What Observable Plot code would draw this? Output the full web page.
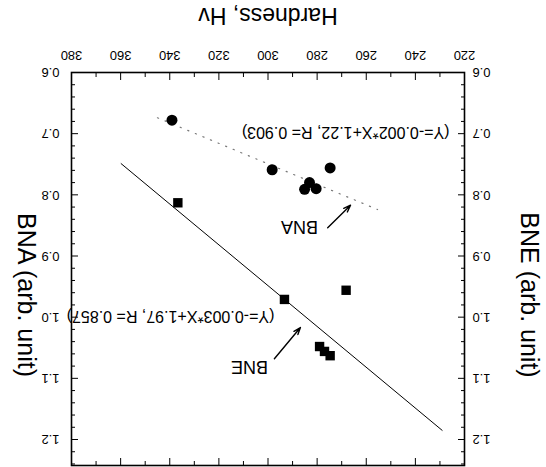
<!DOCTYPE html>
<html><head><meta charset="utf-8">
<script src="https://cdn.jsdelivr.net/npm/d3@7"></script>
<script src="https://cdn.jsdelivr.net/npm/@observablehq/plot@0.6"></script>
<style>
html,body{margin:0;padding:0;background:#fff;}
#wrap{width:546px;height:467px;transform:rotate(180deg);transform-origin:50% 50%;overflow:hidden;}
</style></head>
<body><div id="wrap"></div>
<script>
// Hardness (Hv) vs BNA / BNE values
const bnaHardness = [339.1, 298.3, 274.7, 283.1, 285.1, 280.4];
const bnaValue    = [0.678, 0.759, 0.756, 0.780, 0.791, 0.790];
const bneHardness = [336.7, 293.3, 268.2, 279.0, 277.0, 274.7];
const bneValue    = [0.813, 0.971, 0.956, 1.048, 1.056, 1.063];
// fitted lines (end points)
const bneFitX = [359.8, 229.1];
const bneFitY = [0.749, 1.185];
const bnaFitX = [345.0, 255.4];
const bnaFitY = [0.674, 0.824];
// ticks
const xMajorTicks = [220, 240, 260, 280, 300, 320, 340, 360, 380];
const xMinorTicks = [230, 250, 270, 290, 310, 330, 350, 370];
const yMajorTicks = [0.6, 0.7, 0.8, 0.9, 1.0, 1.1, 1.2];
const yMinorTicks = [0.62, 0.64, 0.66, 0.68, 0.72, 0.74, 0.76, 0.78, 0.82, 0.84, 0.86, 0.88,
                     0.92, 0.94, 0.96, 0.98, 1.02, 1.04, 1.06, 1.08, 1.12, 1.14, 1.16, 1.18, 1.22, 1.24];
// texts
const xTitle = "Hardness, Hv";
const leftTitle = "BNE (arb. unit)";
const rightTitle = "BNA (arb. unit)";
const fitLabels = [
  {t: "(Y=-0.002*X+1.22, R= 0.903)", x: 226.1, y: 0.698},
  {t: "(Y=-0.003*X+1.97, R= 0.857)", x: 297.4, y: 0.999}
];
const seriesLabels = [
  {t: "BNA", x: 287.2, y: 0.852},
  {t: "BNE", x: 307.5, y: 1.081}
];
const arrows = [
  {x1: 275.7, y1: 0.854, x2: 266.4, y2: 0.817},
  {x1: 297.4, y1: 1.068, x2: 286.8, y2: 1.017}
];

const bna = bnaHardness.map((h, i) => ({h, v: bnaValue[i]}));
const bne = bneHardness.map((h, i) => ({h, v: bneValue[i]}));
const bneFit = bneFitX.map((h, i) => ({h, v: bneFitY[i]}));
const bnaFit = bnaFitX.map((h, i) => ({h, v: bnaFitY[i]}));
const fmt1 = d3.format(".1f");
const blank = () => "";

const chart = Plot.plot({
  width: 546, height: 467,
  marginLeft: 81, marginRight: 72, marginTop: 1, marginBottom: 73,
  x: {domain: [220, 380]},
  y: {domain: [0.6, 1.2425]},
  style: {fontFamily: "'Liberation Sans', Arial, Helvetica, sans-serif", fontSize: "13px", color: "black", background: "white"},
  marks: [
    // tick labels
    Plot.axisX({ticks: xMajorTicks, anchor: "bottom", tickSize: 0, tickPadding: 12, tickFormat: d3.format("d"), label: null}),
    Plot.axisY({ticks: yMajorTicks, anchor: "left", tickSize: 0, tickPadding: 8, tickFormat: fmt1, label: null}),
    Plot.axisY({ticks: yMajorTicks, anchor: "right", tickSize: 0, tickPadding: 12, tickFormat: fmt1, label: null}),
    // inward ticks
    Plot.axisX({ticks: xMajorTicks, anchor: "bottom", tickSize: 7, insetBottom: 7, tickFormat: blank, label: null}),
    Plot.axisX({ticks: xMinorTicks, anchor: "bottom", tickSize: 4, insetBottom: 4, tickFormat: blank, label: null}),
    Plot.axisX({ticks: xMajorTicks, anchor: "top", tickSize: 7, insetTop: 7, tickFormat: blank, label: null}),
    Plot.axisX({ticks: xMinorTicks, anchor: "top", tickSize: 4, insetTop: 4, tickFormat: blank, label: null}),
    Plot.axisY({ticks: yMajorTicks, anchor: "left", tickSize: 7, insetLeft: 7, tickFormat: blank, label: null}),
    Plot.axisY({ticks: yMinorTicks, anchor: "left", tickSize: 4, insetLeft: 4, tickFormat: blank, label: null}),
    Plot.axisY({ticks: yMajorTicks, anchor: "right", tickSize: 7, insetRight: 7, tickFormat: blank, label: null}),
    Plot.axisY({ticks: yMinorTicks, anchor: "right", tickSize: 4, insetRight: 4, tickFormat: blank, label: null}),
    Plot.frame({strokeWidth: 1.6}),
    // titles
    Plot.text([xTitle], {frameAnchor: "bottom", dy: 57, fontSize: 23, textAnchor: "middle", lineAnchor: "middle"}),
    Plot.text([leftTitle], {frameAnchor: "left", dx: -64, dy: -26, rotate: -90, fontSize: 25, textAnchor: "middle", lineAnchor: "middle"}),
    Plot.text([rightTitle], {frameAnchor: "right", dx: 46, dy: -26, rotate: -90, fontSize: 25, textAnchor: "middle", lineAnchor: "middle"}),
    // fit lines
    Plot.line(bneFit, {x: "h", y: "v", stroke: "black", strokeWidth: 1}),
    Plot.line(bnaFit, {x: "h", y: "v", stroke: "#777", strokeWidth: 1.2, strokeDasharray: "1.2,7"}),
    // points
    Plot.dot(bna, {x: "h", y: "v", r: 5.5, fill: "black"}),
    Plot.dot(bne, {x: "h", y: "v", symbol: "square", r: 5.3, fill: "black"}),
    // annotations
    Plot.text(fitLabels, {x: "x", y: "y", text: "t", textAnchor: "start", fontSize: 16, lineAnchor: "middle"}),
    Plot.text(seriesLabels, {x: "x", y: "y", text: "t", fontSize: 18, lineAnchor: "middle"}),
    Plot.arrow(arrows, {x1: "x1", y1: "y1", x2: "x2", y2: "y2", stroke: "black", strokeWidth: 1.4, headLength: 8, headAngle: 40})
  ]
});
document.getElementById("wrap").appendChild(chart);
</script>
</body></html>
